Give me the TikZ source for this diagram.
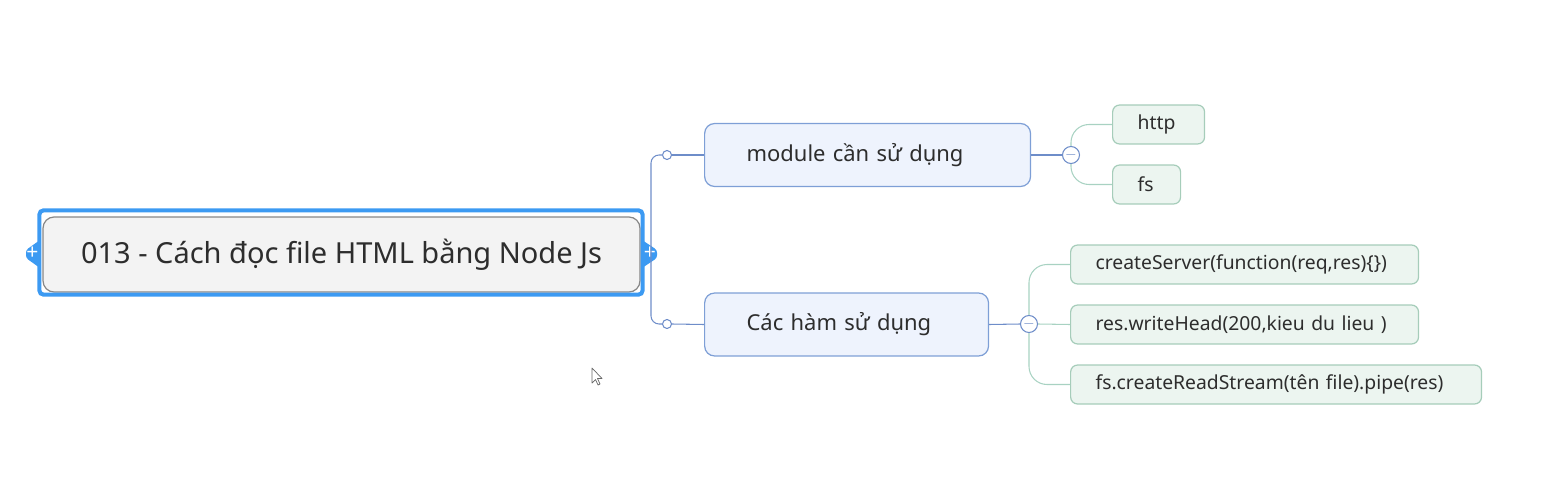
\documentclass[tikz,border=0pt]{standalone}
\usepackage{fontspec}
\setmainfont{Noto Sans}
\usetikzlibrary{calc}

\definecolor{rootfill}{RGB}{243,243,243}
\definecolor{rootline}{RGB}{135,135,135}
\definecolor{selblue}{RGB}{60,154,242}
\definecolor{branchfill}{RGB}{238,243,253}
\definecolor{branchline}{RGB}{126,159,214}
\definecolor{linkblue}{RGB}{110,141,201}
\definecolor{leaffill}{RGB}{236,245,240}
\definecolor{leafline}{RGB}{166,205,186}
\definecolor{leaflink}{RGB}{168,210,194}
\definecolor{inktext}{RGB}{45,45,45}

\begin{document}
\begin{tikzpicture}[x=0.02cm,y=-0.02cm,
    rootbox/.style={draw=rootline,fill=rootfill,rounded corners=0.22cm,line width=0.7pt,
      minimum width=11.94cm,minimum height=1.5cm,text=inktext,font=\fontsize{16.5}{19}\selectfont},
    branch/.style={draw=branchline,fill=branchfill,rounded corners=0.2cm,line width=0.7pt,
      anchor=west,inner xsep=0.84cm,minimum height=1.26cm,align=left,text=inktext,
      font=\fontsize{12.5}{15}\selectfont},
    leaf/.style={draw=leafline,fill=leaffill,rounded corners=0.14cm,line width=0.7pt,
      anchor=west,inner xsep=0.5cm,minimum height=0.78cm,align=left,text=inktext,
      font=\fontsize{11}{13}\selectfont},
    knob/.style={circle,draw=linkblue,fill=white,line width=0.6pt,inner sep=0pt},
    fold/.style={knob,minimum size=0.34cm,font=\footnotesize,text=linkblue},
    plus/.style={text=white,font=\bfseries\large,inner sep=0pt},
    selframe/.style={draw=selblue,line width=2.3pt,rounded corners=0.08cm}]

  \useasboundingbox (0,0) rectangle (1561,500);

  % central topic
  \node[rootbox] (root) at (341.5,254.5) {013 - Cách đọc file HTML bằng Node Js};
  \draw[selframe] ($(root.north west)+(-3,-6)$) rectangle ($(root.south east)+(2,2)$);
  \fill[selblue,rounded corners=1.5] (40,240) -- (26,250) -- (26,258) -- (40,268) -- cycle;
  \fill[selblue,rounded corners=1.5] (642,240) -- (657,250) -- (657,258) -- (642,268) -- cycle;
  \node[plus] (plusl) at (32.5,253.5) {+};
  \node[plus] (plusr) at (650,253.5) {+};

  % main branches
  \coordinate (spine) at (651,254);
  \node[knob,minimum size=0.18cm] (j1) at (667,155) {};
  \node[knob,minimum size=0.18cm] (j2) at (667,324) {};
  \node[branch,text width=4.84cm] (mod) at (704,155) {module cần sử dụng};
  \node[branch,text width=4.0cm] (fn) at (704,324.5) {Các hàm sử dụng};

  \begin{scope}[linkblue,line width=0.6pt]
    \draw[rounded corners=0.16cm] (j1.west) -| (spine) |- (j2.west);
    \draw (j1.east) -- (mod.west);
    \draw (j2.east) -- (fn.west);
  \end{scope}

  % leaves
  \node[fold] (c1) at (1071,155) {$-$};
  \node[fold] (c2) at (1029,324) {$-$};
  \node[leaf,text width=0.84cm] (http) at (1112,124.5) {http};
  \node[leaf,text width=0.36cm] (fs)   at (1112,184.5) {fs};
  \node[leaf,text width=5.96cm] (srv)  at (1070,264.5) {createServer(function(req,res)\{\})};
  \node[leaf,text width=5.96cm] (head) at (1070,324.5) {res.writeHead(200,kieu du lieu )};
  \node[leaf,text width=7.22cm] (pipe) at (1070,384.5) {fs.createReadStream(tên file).pipe(res)};

  \draw[linkblue,line width=0.6pt] (mod.east) -- (c1.west);
  \draw[linkblue,line width=0.6pt] (fn.east) -- (c2.west);

  \begin{scope}[leaflink,line width=0.6pt,rounded corners=0.36cm]
    \draw (c1.north) |- (http.west);
    \draw (c1.south) |- (fs.west);
    \draw (c2.north) |- (srv.west);
    \draw (c2.east) -- (head.west);
    \draw (c2.south) |- (pipe.west);
  \end{scope}

  % mouse pointer
  \draw[gray!80!black,fill=white,line width=0.4pt,line join=round]
    (592,368) -- (592,383) -- (595.5,379.5) -- (598,385) -- (600,384) -- (597.5,378.5) -- (602,378.5) -- cycle;
\end{tikzpicture}
\end{document}
